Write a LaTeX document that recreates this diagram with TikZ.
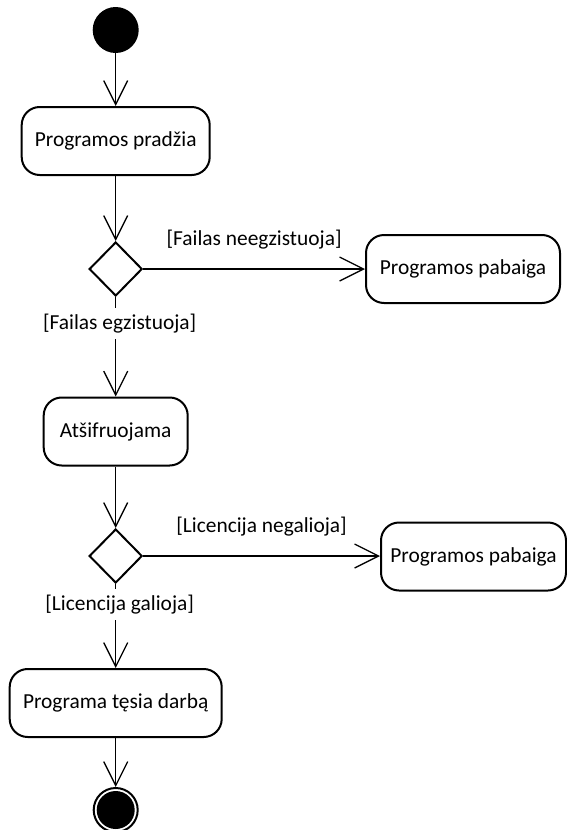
\documentclass[tikz,border=0pt]{standalone}
\usepackage{fontspec}
\setmainfont{Carlito}
\usetikzlibrary{shapes,arrows.meta,positioning}
\tikzstyle{veiksmas} = [draw=black, line width=1pt, rectangle, rounded corners=9pt, minimum height=34pt, inner sep=0pt, font=\fontsize{10.7}{12}\selectfont]
\tikzstyle{sprendimas} = [draw=black, line width=1pt, diamond, minimum width=26.5pt, minimum height=27pt, inner sep=0pt]
\tikzstyle{pradinis} = [circle, fill=black, minimum size=23pt, inner sep=0pt]
\tikzstyle{galinis} = [circle, draw=black, line width=1pt, fill=white, minimum size=22pt, inner sep=0pt]
\tikzstyle{perejimas} = [-{Straight Barb[length=12pt,width=12pt]}, line width=0.65pt]
\tikzstyle{salyga} = [inner sep=0pt, font=\fontsize{10.7}{12}\selectfont]
\tikzstyle{salygaapacioje} = [salyga, fill=white, inner sep=3pt, xshift=2pt]

\begin{document}
\begin{tikzpicture}[x=0.5pt, y=-0.5pt]
	\useasboundingbox (0,0) rectangle (567,830);
	\node[pradinis] (pradzia) at (115.7,30) {};
	\node[veiksmas, minimum width=94pt] (programospradzia) at (115.7,141) {Programos pradžia};
	\node[sprendimas] (failas) at (115.7,269) {};
	\node[veiksmas, minimum width=97pt] (pabaiga1) at (463,269) {Programos pabaiga};
	\node[veiksmas, minimum width=72pt] (atsifruojama) at (115.7,431.5) {Atšifruojama};
	\node[sprendimas] (licencija) at (115.7,556) {};
	\node[veiksmas, minimum width=92.5pt] (pabaiga2) at (473.5,556.5) {Programos pabaiga};
	\node[veiksmas, minimum width=106pt] (tesia) at (115.7,703) {Programa tęsia darbą};
	\node[galinis] (galas) at (115.7,810) {};
	\node[pradinis, minimum size=19pt] at (galas) {};

	\draw[perejimas] (pradzia) -- (programospradzia);
	\draw[perejimas] (programospradzia) -- (failas);
	\draw[perejimas] (failas) -- node[salyga, midway, above=9.5pt] {[Failas neegzistuoja]} (pabaiga1);
	\draw[perejimas] (failas) -- node[salygaapacioje, pos=0.27] {[Failas egzistuoja]} (atsifruojama);
	\draw[perejimas] (atsifruojama) -- (licencija);
	\draw[perejimas] (licencija.east) -- node[salyga, midway, above=9.5pt] {[Licencija negalioja]} (pabaiga2.west |- licencija.east);
	\draw[perejimas] (licencija) -- node[salygaapacioje, pos=0.245] {[Licencija galioja]} (tesia);
	\draw[perejimas] (tesia) -- (galas);
\end{tikzpicture}
\end{document}
